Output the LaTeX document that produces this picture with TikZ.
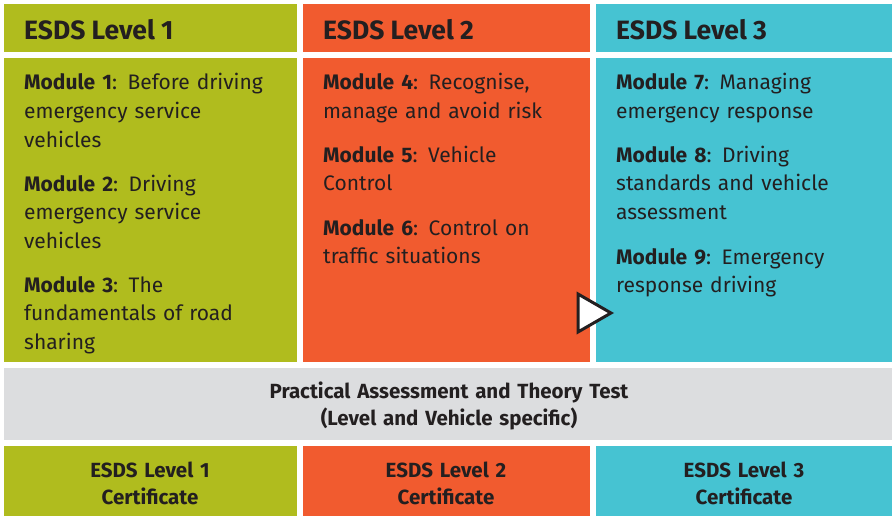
\documentclass[tikz,border=0pt]{standalone}
\usepackage{fontspec}
\setmainfont{Fira Sans}
\definecolor{lgreen}{RGB}{176,188,30}
\definecolor{lorange}{RGB}{241,91,47}
\definecolor{lcyan}{RGB}{70,195,210}
\definecolor{lgray}{RGB}{220,221,223}
\definecolor{ink}{RGB}{35,31,32}
\tikzset{
  headtxt/.style={anchor=base west, inner sep=0pt, text=ink, font=\fontsize{26.5}{30}\selectfont\bfseries},
  modtxt/.style={anchor=base west, inner sep=0pt, text=ink, text width=270pt, align=left, font=\fontsize{21}{28.7}\selectfont},
  certtxt/.style={anchor=base, inner sep=0pt, text=ink, text width=400pt, align=center, font=\fontsize{20.5}{27.5}\selectfont\bfseries},
}
\begin{document}
\begin{tikzpicture}[x=1pt,y=-1pt]
\useasboundingbox (0,0) rectangle (894,516);
\fill[white] (0,0) rectangle (894,516);
% headers
\fill[lgreen] (4,4) rectangle (297,52);
\fill[lorange] (303,4) rectangle (590,52);
\fill[lcyan] (596,4) rectangle (892,52);
% bodies
\fill[lgreen] (4,58) rectangle (297,362);
\fill[lorange] (303,58) rectangle (590,362);
\fill[lcyan] (596,58) rectangle (892,362);
% gray band
\fill[lgray] (4,368) rectangle (892,440);
% bottom
\fill[lgreen] (4,446) rectangle (297,516);
\fill[lorange] (303,446) rectangle (590,516);
\fill[lcyan] (596,446) rectangle (892,516);
% triangle
\draw[line width=3pt, ink, fill=white, line join=miter] (578,294) -- (611,313) -- (578,332) -- cycle;
% header text
\node[headtxt] (h1) at (24,40) {ESDS Level 1};
\node[headtxt] (h2) at (323,40) {ESDS Level 2};
\node[headtxt] (h3) at (616,40) {ESDS Level 3};
% modules
\node[modtxt] (m1) at (24,90) {\textbf{Module 1}: Before driving\\emergency service\\vehicles};
\node[modtxt] (m2) at (24,191) {\textbf{Module 2}: Driving\\emergency service\\vehicles};
\node[modtxt] (m3) at (24,292) {\textbf{Module 3}: The\\fundamentals of road\\sharing};
\node[modtxt] (m4) at (323,90) {\textbf{Module 4}: Recognise,\\manage and avoid risk};
\node[modtxt] (m5) at (323,162) {\textbf{Module 5}: Vehicle\\Control};
\node[modtxt] (m6) at (323,235) {\textbf{Module 6}: Control on\\traffic situations};
\node[modtxt] (m7) at (616,90) {\textbf{Module 7}: Managing\\emergency response};
\node[modtxt] (m8) at (616,162) {\textbf{Module 8}: Driving\\standards and vehicle\\assessment};
\node[modtxt] (m9) at (616,264) {\textbf{Module 9}: Emergency\\response driving};
% gray
\node[certtxt] (pa) at (449,398) {Practical Assessment and Theory Test\\(Level and Vehicle specific)};
% certificates
\node[certtxt] (c1) at (150,477) {ESDS Level 1\\Certificate};
\node[certtxt] (c2) at (446,477) {ESDS Level 2\\Certificate};
\node[certtxt] (c3) at (744,477) {ESDS Level 3\\Certificate};
\end{tikzpicture}
\end{document}
